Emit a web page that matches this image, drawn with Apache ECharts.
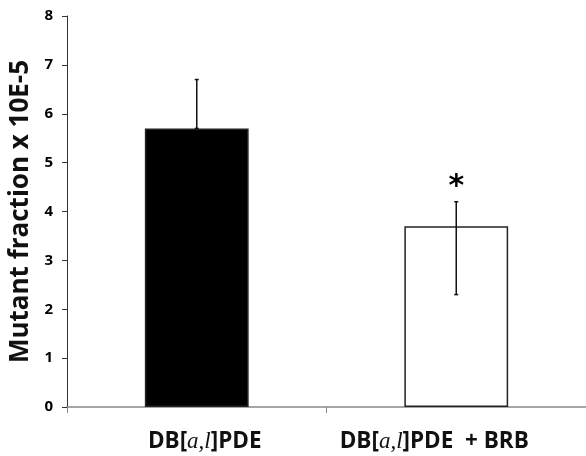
<!DOCTYPE html>
<html><head><meta charset="utf-8">
<script src="https://cdn.jsdelivr.net/npm/echarts@6/dist/echarts.min.js"></script>
<style>html,body{margin:0;padding:0;background:#fff}#c{width:586px;height:456px}</style>
</head><body><div id="c"></div>
<script>
var categories = ['DB[a,l]PDE', 'DB[a,l]PDE + BRB'];
var values = [5.7, 3.7];
var errHigh = [6.7, 4.2];
var errLow = [5.7, 2.3];
var yTicks = [0, 1, 2, 3, 4, 5, 6, 7, 8];
var sigMarks = ['', '*'];

var chart = echarts.init(document.getElementById('c'));
var F = '"Open Sans", Lato, sans-serif';
chart.setOption({
  animation: false,
  grid: {left: 67, right: 0, top: 16, bottom: 49, containLabel: false, outerBoundsMode: 'none'},
  xAxis: {
    type: 'category', data: categories,
    axisLine: {lineStyle: {color: '#888', width: 1.5}},
    axisTick: {show: true, length: 6, lineStyle: {color: '#888'}},
    axisLabel: {
      margin: 23, interval: 0, hideOverlap: false, showMinLabel: true, showMaxLabel: true,
      formatter: function (v, idx) {
        var s = v.replace('DB[a,l]PDE', '{b|DB[}{i|a,l}{b|]PDE}').replace(' + BRB', '{b|  + BRB}');
        return idx === 0 ? '{sp1|}' + s : s + '{sp2|}';
      },
      rich: {
        b: {fontFamily: F, fontWeight: 'bold', fontSize: 22.5, color: '#111'},
        i: {fontFamily: '"Liberation Serif", serif', fontStyle: 'italic', fontSize: 23, color: '#111'},
        sp1: {width: 16},
        sp2: {width: 44}
      }
    }
  },
  yAxis: {
    type: 'value', min: 0, max: 8, interval: 1,
    name: 'Mutant fraction x 10E-5', nameLocation: 'middle', nameGap: 32, nameRotate: 90,
    nameTextStyle: {fontFamily: F, fontWeight: 'bold', fontSize: 26, color: '#111'},
    axisLine: {show: true, lineStyle: {color: '#333', width: 1}},
    axisTick: {show: true, length: 5, lineStyle: {color: '#333'}},
    splitLine: {show: false},
    axisLabel: {
      show: true,
      fontFamily: F, fontWeight: 'bold', fontSize: 15, color: '#000', margin: 14,
      formatter: function (v) { return yTicks.indexOf(v) >= 0 ? String(v) : ''; }
    }
  },
  series: [{
    type: 'bar', data: values, barWidth: '40%',
    itemStyle: {
      color: function (p) { return p.dataIndex === 0 ? '#000' : '#fff'; },
      borderColor: '#222', borderWidth: 1.5
    },
    label: {
      show: true, position: 'top', distance: 0,
      formatter: function (p) { return sigMarks[p.dataIndex]; },
      fontSize: 30, fontWeight: 'bold', fontFamily: '"DejaVu Sans", sans-serif', color: '#000',
      offset: [0, -24]
    },
    z: 2
  }, {
    type: 'custom', z: 3,
    data: categories.map(function (c, i) { return [i, errLow[i], errHigh[i]]; }),
    renderItem: function (params, api) {
      var lo = api.coord([api.value(0), api.value(1)]);
      var hi = api.coord([api.value(0), api.value(2)]);
      return {
        type: 'group', children: [
          {type: 'line', shape: {x1: hi[0], y1: hi[1], x2: lo[0], y2: lo[1]}, style: {stroke: '#111', lineWidth: 1.5}},
          {type: 'line', shape: {x1: hi[0] - 2, y1: hi[1], x2: hi[0] + 2, y2: hi[1]}, style: {stroke: '#111', lineWidth: 1.5}},
          {type: 'line', shape: {x1: lo[0] - 2, y1: lo[1], x2: lo[0] + 2, y2: lo[1]}, style: {stroke: '#111', lineWidth: 1.5}}
        ]
      };
    }
  }]
});
</script></body></html>
